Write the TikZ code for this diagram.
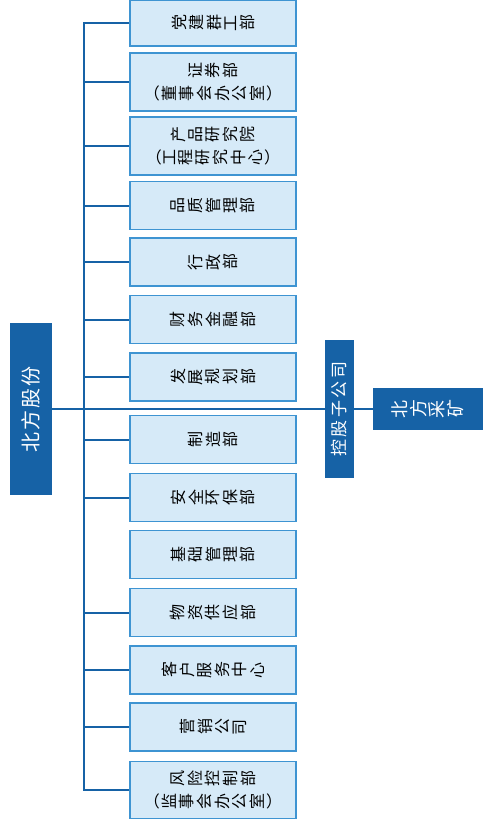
\documentclass[tikz,border=0pt]{standalone}
\usepackage{fontspec}
\setmainfont{Noto Sans CJK SC}
\usepackage{graphicx}
\usepackage{tikz}

\definecolor{darkblue}{RGB}{22,98,166}
\definecolor{boxline}{RGB}{62,148,210}
\definecolor{boxfill}{RGB}{214,234,248}

% each character turned on its side, with some room between them
\makeatletter
\newcommand\rchars[2][3pt]{\let\rc@sep\relax\@tfor\rc@ch:=#2\do{\rc@sep\rotatebox[origin=c]{90}{\rc@ch}\def\rc@sep{\hspace{#1}}}}
\newcommand\schars[2][3pt]{\let\rc@sep\relax\@tfor\rc@ch:=#2\do{\rc@sep\rc@ch\def\rc@sep{\hspace{#1}}}}
\makeatother

\begin{document}
\begin{tikzpicture}[x=1pt,y=-1pt,
  dept/.style={draw=boxline,fill=boxfill,line width=1.8pt,minimum width=166pt,align=center,inner sep=2pt,font=\fontsize{16}{23}\selectfont},
  dark/.style={fill=darkblue,text=white,inner sep=0pt},
  link/.style={draw=darkblue,line width=2pt}]
\useasboundingbox (0,0) rectangle (482,829);

\node[dark,rotate=90,minimum width=172pt,minimum height=42pt,font=\fontsize{20}{20}\selectfont] (bfgf) at (31,409) {\schars[2pt]{北方股份}};
\node[dark,rotate=90,minimum width=138pt,minimum height=29pt,font=\fontsize{17}{17}\selectfont] (kgzgs) at (339.5,409) {\schars[2.5pt]{控股子公司}};
\node[dark,minimum width=110pt,minimum height=42pt,font=\fontsize{18}{18}\selectfont] (bfck) at (428,409) {\rchars[2pt]{北方采矿}};
\coordinate (trunk) at (84,409);

\foreach \i/\y/\h/\t in {
  1/23/46/{\rchars{党建群工部}},
  2/82/58/{\rchars{证券部}\\（\hspace{2pt}\rchars{董事会办公室}\hspace{2pt}）},
  3/146/58/{\rchars{产品研究院}\\（\hspace{2pt}\rchars{工程研究中心}\hspace{2pt}）},
  4/205.5/48/{\rchars{品质管理部}},
  5/262/48/{\rchars{行政部}},
  6/319.5/48/{\rchars{财务金融部}},
  7/377/48/{\rchars{发展规划部}},
  8/439.5/48/{\rchars{制造部}},
  9/497.5/48/{\rchars{安全环保部}},
  10/554.5/48/{\rchars{基础管理部}},
  11/612.5/48/{\rchars{物资供应部}},
  12/670/48/{\rchars{客户服务中心}},
  13/727/48/{\rchars{营销公司}},
  14/790/57/{\rchars{风险控制部}\\（\hspace{2pt}\rchars{监事会办公室}\hspace{2pt}）}}
  \node[dept,minimum height=\h] (d\i) at (213,\y) {\t};

\draw[link] (bfgf) -- (kgzgs);
\draw[link] (kgzgs) -- (bfck);
\draw[link] (d1.west) -| (trunk |- d14.west) -- (d14.west);
\foreach \i in {2,3,4,5,6,7,8,9,11,12,13}
  \draw[link] (trunk |- d\i.west) -- (d\i.west);
\end{tikzpicture}
\end{document}
